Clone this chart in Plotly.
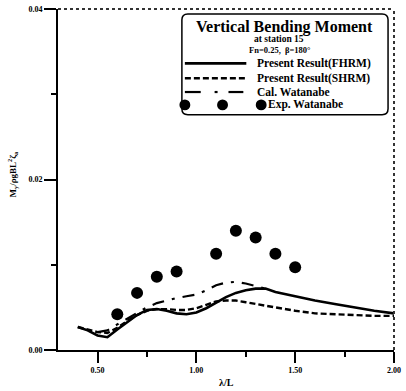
import plotly.graph_objects as go

# Wave length ratio grid for the computed curves
lam = [0.40, 0.45, 0.50, 0.55, 0.60, 0.65, 0.70, 0.75, 0.80, 0.85, 0.90, 0.95,
       1.00, 1.05, 1.10, 1.15, 1.20, 1.25, 1.30, 1.35, 1.40, 1.50, 1.60, 1.70,
       1.80, 1.90, 2.00]
fhrm = [0.0027, 0.0023, 0.0017, 0.0015, 0.0024, 0.0033, 0.0041, 0.0047, 0.0048,
        0.0046, 0.0043, 0.0042, 0.0044, 0.0049, 0.0056, 0.0062, 0.0067, 0.0070,
        0.0072, 0.0072, 0.0068, 0.0063, 0.0058, 0.0054, 0.0050, 0.0046, 0.0043]
shrm = [0.0027, 0.0024, 0.0021, 0.0020, 0.0026, 0.0034, 0.0041, 0.0046, 0.0048,
        0.0048, 0.0047, 0.0047, 0.0049, 0.0053, 0.0057, 0.0058, 0.0058, 0.0056,
        0.0054, 0.0052, 0.0050, 0.0046, 0.0043, 0.0042, 0.0041, 0.0040, 0.0040]

# Watanabe calculation
lam_cal = [0.50, 0.55, 0.60, 0.65, 0.70, 0.75, 0.80, 0.85, 0.90, 0.95, 1.00,
           1.05, 1.10, 1.15, 1.20, 1.25, 1.30, 1.35]
cal = [0.0021, 0.0023, 0.0030, 0.0037, 0.0044, 0.0050, 0.0055, 0.0058, 0.0061,
       0.0063, 0.0065, 0.0070, 0.0076, 0.0079, 0.0080, 0.0078, 0.0075, 0.0072]

# Watanabe experiment
lam_exp = [0.60, 0.70, 0.80, 0.90, 1.10, 1.20, 1.30, 1.40, 1.50]
exp = [0.0042, 0.0067, 0.0086, 0.0092, 0.0113, 0.0140, 0.0132, 0.0113, 0.0097]

xticks = [0.5, 1.0, 1.5, 2.0]
xticklabels = ["0.50", "1.00", "1.50", "2.00"]
yticks = [0.0, 0.02, 0.04]
yticklabels = ["0.00", "0.02", "0.04"]

W, H = 406, 391
L, R, T, B = 58, 9, 5, 41
SERIF = "Liberation Serif, Times New Roman, serif"


def px(x):
    return (x - L) / (W - L - R)


def py(y):
    return (H - B - y) / (H - T - B)


fig = go.Figure()
fig.add_trace(go.Scatter(x=lam, y=fhrm, mode="lines",
                         line=dict(color="black", width=2.6), name="FHRM"))
fig.add_trace(go.Scatter(x=lam, y=shrm, mode="lines",
                         line=dict(color="black", width=2.4, dash="6px,3px"),
                         name="SHRM"))
fig.add_trace(go.Scatter(x=lam_cal, y=cal, mode="lines",
                         line=dict(color="black", width=2.2,
                                   dash="12px,8px,3px,8px"),
                         name="Cal."))
fig.add_trace(go.Scatter(x=lam_exp, y=exp, mode="markers",
                         marker=dict(color="black", size=12), name="Exp."))

shapes = []
# top and right frame lines
shapes.append(dict(type="line", xref="paper", yref="paper", x0=0, x1=1, y0=1, y1=1,
                   line=dict(color="#333", width=2, dash="dot")))
shapes.append(dict(type="line", xref="paper", yref="paper", x0=1, x1=1, y0=0, y1=1,
                   line=dict(color="#333", width=2, dash="dot")))

# legend box with rounded corners
bx0, bx1, by0, by1, r = 183, 391, 10, 112, 6
path = (f"M {px(bx0 + r)},{py(by0)} L {px(bx1 - r)},{py(by0)} "
        f"Q {px(bx1)},{py(by0)} {px(bx1)},{py(by0 + r)} "
        f"L {px(bx1)},{py(by1 - r)} Q {px(bx1)},{py(by1)} {px(bx1 - r)},{py(by1)} "
        f"L {px(bx0 + r)},{py(by1)} Q {px(bx0)},{py(by1)} {px(bx0)},{py(by1 - r)} "
        f"L {px(bx0)},{py(by0 + r)} Q {px(bx0)},{py(by0)} {px(bx0 + r)},{py(by0)} Z")
shapes.append(dict(type="path", xref="paper", yref="paper", path=path,
                   fillcolor="white", line=dict(color="black", width=1.5),
                   layer="above"))

# legend samples
rows = [60, 75, 89, 102]
shapes.append(dict(type="line", xref="paper", yref="paper", x0=px(186), x1=px(248),
                   y0=py(rows[0]), y1=py(rows[0]), line=dict(color="black", width=2.6)))
shapes.append(dict(type="line", xref="paper", yref="paper", x0=px(186), x1=px(248),
                   y0=py(rows[1]), y1=py(rows[1]),
                   line=dict(color="black", width=2.4, dash="6px,3px")))
for a, b in [(186, 202), (216, 219), (230, 245)]:
    shapes.append(dict(type="line", xref="paper", yref="paper", x0=px(a), x1=px(b),
                       y0=py(rows[2]), y1=py(rows[2]),
                       line=dict(color="black", width=2.2)))
for cx in [186, 224, 263]:
    shapes.append(dict(type="circle", xref="paper", yref="paper",
                       x0=px(cx - 5.5), x1=px(cx + 5.5),
                       y0=py(rows[3] + 5.5), y1=py(rows[3] - 5.5),
                       fillcolor="black", line=dict(width=0)))

ann = []


def text(x, y, s, size, anchor="left", **kw):
    ann.append(dict(xref="paper", yref="paper", x=px(x), y=py(y), text=s,
                    showarrow=False, xanchor=anchor, yanchor="middle",
                    font=dict(family=SERIF, size=size, color="black", weight="bold"),
                    **kw))


text(287, 23, "Vertical Bending Moment", 16, "center")
text(281, 35, "at station 15", 9.5, "center")
text(281, 46, "Fn=0.25,  β=180°", 8.5, "center")
text(257, rows[0], "Present Result(FHRM)", 11.5)
text(257, rows[1], "Present Result(SHRM)", 11.5)
text(257, rows[2], "Cal. Watanabe", 11.5)
text(268, rows[3], "Exp. Watanabe", 11.5)
text(228, 383, "λ/L", 10, "center")
text(12, 172, "M<sub>y</sub>/ρgBL<sup>2</sup>ζ<sub>a</sub>", 9, "center", textangle=-90)

tickfont = dict(family=SERIF, size=8, color="black", weight="bold")
fig.update_layout(
    width=W, height=H, margin=dict(l=L, r=R, t=T, b=B),
    paper_bgcolor="white", plot_bgcolor="white", showlegend=False,
    shapes=shapes, annotations=ann,
    xaxis=dict(range=[0.3, 2.0], tickvals=xticks, ticktext=xticklabels,
               ticks="outside", ticklen=11, tickwidth=1.5, tickcolor="black",
               showline=True, linecolor="black", linewidth=2, showgrid=False,
               zeroline=False, tickfont=tickfont,
               minor=dict(tickvals=[0.75, 1.25, 1.75], ticks="outside",
                          ticklen=5, tickcolor="black", tickwidth=1.5)),
    yaxis=dict(range=[0, 0.04], tickvals=yticks, ticktext=yticklabels,
               ticks="outside", ticklen=12, tickwidth=1.5, tickcolor="black",
               showline=True, linecolor="black", linewidth=2, showgrid=False,
               zeroline=False, tickfont=tickfont,
               minor=dict(tickvals=[0.01, 0.03], ticks="outside",
                          ticklen=5, tickcolor="black", tickwidth=1.5)),
)

fig.write_html("out.html")
